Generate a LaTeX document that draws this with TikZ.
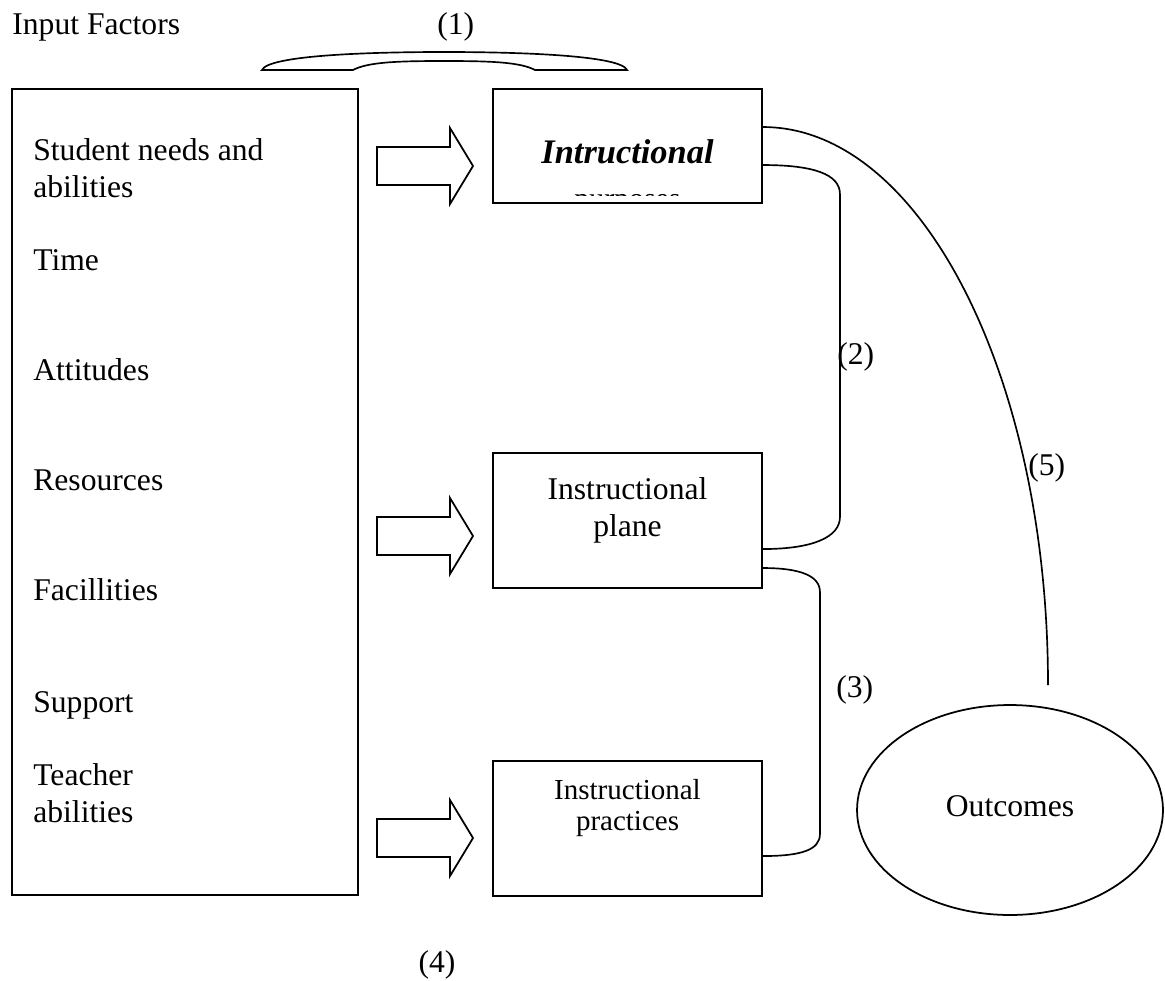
\documentclass[tikz,border=0pt]{standalone}
\usepackage{fontspec}
\setmainfont{Liberation Serif}
\usetikzlibrary{shapes,positioning}

\tikzset{
    factorbox/.style={draw, rectangle, line width=1.1pt, inner sep=0pt},
    inputarrow/.style={draw, line width=1pt},
    link/.style={draw, line width=0.95pt},
    item/.style={anchor=base west, inner sep=0pt, align=left},
    tag/.style={anchor=west, inner sep=0pt}
}

\begin{document}
\begin{tikzpicture}[x=0.02cm, y=-0.02cm, font=\fontsize{18}{21}\selectfont]
    \useasboundingbox (0,0) rectangle (1165,980);
    % Input factors
    \node[anchor=base west, inner sep=0pt] (title) at (12,35) {Input Factors};
    \node[factorbox, minimum width=6.92cm, minimum height=16.12cm] (factors) at (185,492) {};
    \node[item] (needs) at (33,197) {Student needs and\\abilities};
    \node[item] (time) at (33,270) {Time};
    \node[item] (attitudes) at (33,380) {Attitudes};
    \node[item] (resources) at (33,490) {Resources};
    \node[item] (facilities) at (33,600) {Facillities};
    \node[item] (support) at (33,712) {Support};
    \node[item] (teacher) at (33,822) {Teacher\\abilities};
    % Brace and labels
    \draw[link] (262,70) .. controls (268,56) and (360,52) .. (444,52)
        .. controls (528,52) and (621,56) .. (627,70) -- (535,70)
        .. controls (520,62) and (490,61) .. (444,61)
        .. controls (398,61) and (368,62) .. (353,70) -- cycle;
    \node[tag] (one) at (437,27) {(1)};
    \node (four) at (437,965) {(4)};
    % Instructional boxes
    \node[factorbox, minimum width=5.38cm, minimum height=2.28cm] (purpose) at (627.5,146) {};
    \node[anchor=base, inner sep=0pt, font=\fontsize{19.6}{23}\selectfont\bfseries\itshape] (purposetext) at (627.5,163) {Intructional};
    \begin{scope}
        \clip (560,193) rectangle (700,195.5);
        \node[anchor=base, inner sep=0pt, font=\fontsize{17}{20}\selectfont] (purposecut) at (627.5,208) {purposes};
    \end{scope}
    \node[factorbox, minimum width=5.38cm, minimum height=2.7cm] (plan) at (627.5,520.5) {};
    \node[align=center] (plantext) at (627.5,510) {Instructional\\plane};
    \node[factorbox, minimum width=5.38cm, minimum height=2.7cm] (practice) at (627.5,828.5) {};
    \node[align=center, font=\fontsize{16.5}{18}\selectfont] (practicetext) at (627.5,808) {Instructional\\practices};
    % Outcomes
    \node[draw, ellipse, line width=1pt, minimum width=6.12cm, minimum height=4.2cm, inner sep=0pt] (outcomes) at (1010,810) {\raisebox{0.16cm}{Outcomes}};
    \coordinate (linkend) at (1048,685);
    % Block arrows
    \draw[inputarrow, shift={(377,166)}] (0,-19) -- (73,-19) -- (73,-38) -- (96,0) -- (73,38) -- (73,19) -- (0,19) -- cycle;
    \draw[inputarrow, shift={(377,536)}] (0,-19) -- (73,-19) -- (73,-38) -- (96,0) -- (73,38) -- (73,19) -- (0,19) -- cycle;
    \draw[inputarrow, shift={(377,838)}] (0,-19) -- (73,-19) -- (73,-38) -- (96,0) -- (73,38) -- (73,19) -- (0,19) -- cycle;
    % Links between stages
    \draw[link] ([yshift=-1.54cm]purpose.north east) .. controls +(50,0) and +(0,-20) .. ++(77,29)
        -- ++(0,323) .. controls +(0,20) and +(50,0) .. ([yshift=-1.94cm]plan.north east);
    \draw[link] ([yshift=-2.32cm]plan.north east) .. controls +(38,0) and +(0,-16) .. ++(57,24)
        -- ++(0,242) .. controls +(0,16) and +(38,0) .. ([yshift=-1.92cm]practice.north east);
    \draw[link] ([yshift=-0.78cm]purpose.north east) .. controls +(158,0) and +(0,-308) .. (linkend);
    \node[tag] (two) at (837,357) {(2)};
    \node[tag] (three) at (836,690) {(3)};
    \node[tag] (five) at (1028,468) {(5)};
\end{tikzpicture}
\end{document}
